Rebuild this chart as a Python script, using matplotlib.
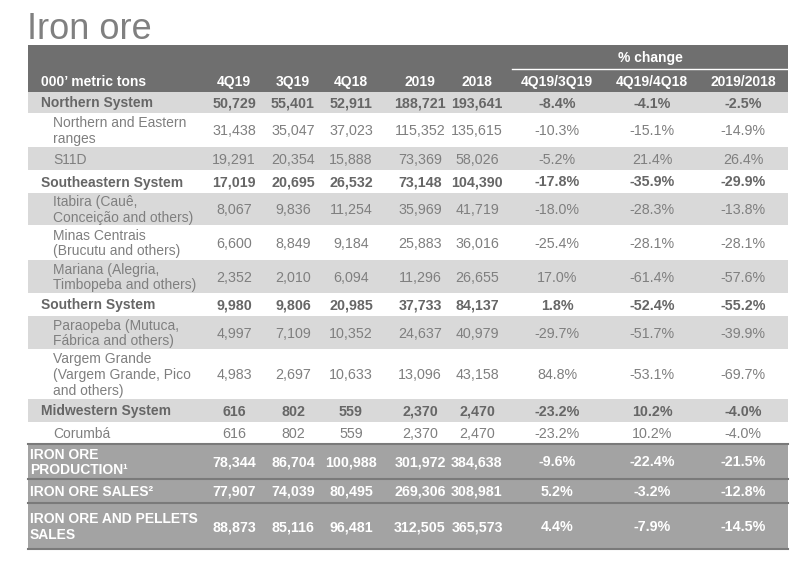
import matplotlib.pyplot as plt
from matplotlib.patches import Rectangle

plt.rcParams['font.family'] = ['Liberation Sans', 'DejaVu Sans']

# table data
labels = ['Northern System', 'Northern and Eastern\nranges', 'S11D',
          'Southeastern System', 'Itabira (Cauê,\nConceição and others)',
          'Minas Centrais\n(Brucutu and others)', 'Mariana (Alegria,\nTimbopeba and others)',
          'Southern System', 'Paraopeba (Mutuca,\nFábrica and others)',
          'Vargem Grande\n(Vargem Grande, Pico\nand others)',
          'Midwestern System', 'Corumbá',
          'IRON ORE\nPRODUCTION¹', 'IRON ORE SALES²', 'IRON ORE AND PELLETS\nSALES']
kinds = ['sys', 'sub', 'sub', 'sys', 'sub', 'sub', 'sub', 'sys', 'sub', 'sub',
         'sys', 'sub', 'tot', 'tot', 'tot']

col_headers = ['4Q19', '3Q19', '4Q18', '2019', '2018', '4Q19/3Q19', '4Q19/4Q18', '2019/2018']
q4_19 = [50729, 31438, 19291, 17019, 8067, 6600, 2352, 9980, 4997, 4983, 616, 616, 78344, 77907, 88873]
q3_19 = [55401, 35047, 20354, 20695, 9836, 8849, 2010, 9806, 7109, 2697, 802, 802, 86704, 74039, 85116]
q4_18 = [52911, 37023, 15888, 26532, 11254, 9184, 6094, 20985, 10352, 10633, 559, 559, 100988, 80495, 96481]
y2019 = [188721, 115352, 73369, 73148, 35969, 25883, 11296, 37733, 24637, 13096, 2370, 2370, 301972, 269306, 312505]
y2018 = [193641, 135615, 58026, 104390, 41719, 36016, 26655, 84137, 40979, 43158, 2470, 2470, 384638, 308981, 365573]
chg_qq = [-8.4, -10.3, -5.2, -17.8, -18.0, -25.4, 17.0, 1.8, -29.7, 84.8, -23.2, -23.2, -9.6, 5.2, 4.4]
chg_qy = [-4.1, -15.1, 21.4, -35.9, -28.3, -28.1, -61.4, -52.4, -51.7, -53.1, 10.2, 10.2, -22.4, -3.2, -7.9]
chg_yy = [-2.5, -14.9, 26.4, -29.9, -13.8, -28.1, -57.6, -55.2, -39.9, -69.7, -4.0, -4.0, -21.5, -12.8, -14.5]

# layout (pixel units)
row_edges = [92, 113, 147, 170, 193, 225, 260, 293, 316, 349, 399, 422, 444, 479, 503, 549]
col_x = [234, 293, 351, 420, 477, 557, 652, 743]
left, right = 28, 788
fs = 10
fs_num = 10.3

fig = plt.figure(figsize=(8, 5.62), dpi=100)
ax = fig.add_axes([0, 0, 1, 1])
ax.set_xlim(0, 800)
ax.set_ylim(562, 0)
ax.axis('off')

ax.text(27, 39, 'Iron ore', fontsize=26, color='#808080', va='baseline', ha='left')

# header
ax.add_patch(Rectangle((left, 45), right - left, 47, color='#6f6f6f', lw=0))
ax.plot([512, right], [69, 69], color='white', lw=1)
ax.text(650, 58, '% change', color='white', fontsize=fs, fontweight='bold', ha='center', va='center')
ax.text(41, 82, '000’ metric tons', color='white', fontsize=fs, fontweight='bold', ha='left', va='center')
for x, h in zip(col_x, col_headers):
    ax.text(x, 82, h, color='white', fontsize=fs, fontweight='bold', ha='center', va='center')

cols = [q4_19, q3_19, q4_18, y2019, y2018]
pcts = [chg_qq, chg_qy, chg_yy]

for i, lab in enumerate(labels):
    top, bot = row_edges[i], row_edges[i + 1]
    yc = (top + bot) / 2
    kind = kinds[i]
    if kind == 'tot':
        bg = '#a3a3a3'
        color, weight, lx = 'white', 'bold', 30
    else:
        bg = '#d9d9d9' if i % 2 == 0 else 'white'
        if kind == 'sys':
            color, weight, lx = '#666666', 'bold', 41
        else:
            color, weight, lx = '#7f7f7f', 'normal', 53
    ax.add_patch(Rectangle((left, top), right - left, bot - top, color=bg, lw=0))
    ax.text(lx, yc + 1, lab, color=color, fontsize=fs, fontweight=weight,
            ha='left', va='center', linespacing=1.15)
    for x, c in zip(col_x[:5], cols):
        ax.text(x, yc + 1, f'{c[i]:,}', color=color, fontsize=fs_num, fontweight=weight,
                ha='center', va='center')
    for x, c in zip(col_x[5:], pcts):
        ax.text(x, yc + 1, f'{c[i]:.1f}%', color=color, fontsize=fs_num, fontweight=weight,
                ha='center', va='center')

# separators in the totals block
for y in row_edges[12:]:
    ax.plot([left, right], [y, y], color='#7a7a7a', lw=1.5)

fig.savefig('out.png', dpi=100)
